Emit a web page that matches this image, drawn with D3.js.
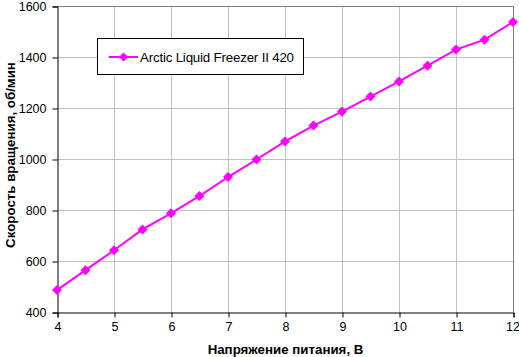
<!DOCTYPE html>
<html><head><meta charset="utf-8">
<script src="https://cdn.jsdelivr.net/npm/d3@7"></script>
<style>body{margin:0;background:#fff}svg{display:block;font-family:Arial,"Liberation Sans",sans-serif}</style>
</head><body><svg id="c" width="519" height="357"></svg>
<script>
const voltages = [4,4.5,5,5.5,6,6.5,7,7.5,8,8.5,9,9.5,10,10.5,11,11.5,12];
const rpm = [486,564,642,724,787,855,929,998,1069,1131,1186,1245,1304,1366,1429,1468,1537];
const seriesName = "Arctic Liquid Freezer II 420";
const xTicks = [4,5,6,7,8,9,10,11,12];
const yTicks = [400,600,800,1000,1200,1400,1600];
const xTitle = "Напряжение питания, В";
const yTitle = "Скорость вращения, об/мин";

const svg = d3.select("#c");
const L=57, R=513, T=6, B=312;
const x = d3.scaleLinear().domain([4,12]).range([L,R]);
const y = d3.scaleLinear().domain([400,1600]).range([B,T]);

// grid
svg.append("g").selectAll("line").data(xTicks.slice(1)).join("line")
  .attr("x1",d=>x(d)+0.5).attr("x2",d=>x(d)+0.5).attr("y1",T).attr("y2",B)
  .attr("stroke","#c0c0c0").attr("stroke-width",1);
svg.append("g").selectAll("line").data(yTicks.slice(1)).join("line")
  .attr("y1",d=>Math.round(y(d))+0.5).attr("y2",d=>Math.round(y(d))+0.5).attr("x1",L).attr("x2",R)
  .attr("stroke","#c0c0c0").attr("stroke-width",1);
// right/top border
svg.append("path").attr("d",`M${L},${T+0.5}H${R+0.5}V${B}`).attr("fill","none").attr("stroke","#808080");

// axes
const xa = svg.append("g").attr("transform",`translate(0.5,${B+0.5})`)
  .call(d3.axisBottom(x).tickValues(xTicks).tickSize(5).tickPadding(5).tickFormat(d3.format("d")));
const ya = svg.append("g").attr("transform",`translate(${L+0.5},0.5)`)
  .call(d3.axisLeft(y).tickValues(yTicks).tickSize(5).tickPadding(6).tickFormat(d3.format("d")));
[xa,ya].forEach(a=>{a.select(".domain").attr("stroke","#000");a.selectAll(".tick line").attr("stroke","#000");
  a.selectAll("text").attr("font-size",12.5).attr("fill","#000").attr("font-family","Arial, 'Liberation Sans', sans-serif");});
// keep last x label inside the frame
xa.selectAll(".tick text").filter(d=>d===12).attr("dx",-1);

// line
svg.append("path").datum(voltages.map((v,i)=>[v,rpm[i]]))
  .attr("d",d3.line().x(d=>x(d[0])).y(d=>y(d[1])))
  .attr("fill","none").attr("stroke","#ff00ff").attr("stroke-width",2);
const diamond = "M0,-5L5,0L0,5L-5,0Z";
svg.append("g").selectAll("path").data(voltages).join("path")
  .attr("transform",(d,i)=>`translate(${x(d)},${y(rpm[i])})`)
  .attr("d",diamond).attr("fill","#ff00ff");

// legend
svg.append("rect").attr("x",97.5).attr("y",38.5).attr("width",206).attr("height",36)
  .attr("fill","#fff").attr("stroke","#000");
svg.append("line").attr("x1",109).attr("x2",138).attr("y1",57).attr("y2",57).attr("stroke","#ff00ff").attr("stroke-width",2);
svg.append("path").attr("transform","translate(123.5,57)").attr("d","M0,-4.5L4.5,0L0,4.5L-4.5,0Z").attr("fill","#ff00ff");
svg.append("text").attr("x",140).attr("y",61.5).attr("font-size",13.3).attr("textLength",154).text(seriesName);

// titles
svg.append("text").attr("x",285.5).attr("y",354).attr("text-anchor","middle")
  .attr("font-size",13.3).attr("font-weight","bold").text(xTitle);
svg.append("text").attr("transform","translate(15,155) rotate(-90)").attr("text-anchor","middle")
  .attr("font-size",13.3).attr("font-weight","bold").text(yTitle);
</script></body></html>
